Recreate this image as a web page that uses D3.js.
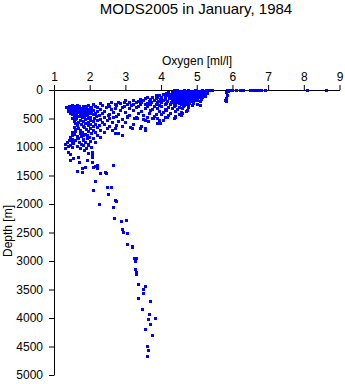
<!DOCTYPE html>
<html>
<head>
<meta charset="utf-8">
<script src="https://cdn.jsdelivr.net/npm/d3@7/dist/d3.min.js"></script>
<style>
html,body{margin:0;padding:0;background:#fff;}
svg{display:block;font-family:"Liberation Sans",Arial,Helvetica,sans-serif;}
</style>
</head>
<body>
<svg id="chart" width="345" height="384"></svg>
<script>
const titleText = "MODS2005 in January, 1984";
const xLabel = "Oxygen [ml/l]";
const yLabel = "Depth [m]";
const xTicks = [1,2,3,4,5,6,7,8,9];
const yTicks = [0,500,1000,1500,2000,2500,3000,3500,4000,4500,5000];

// [oxygen ml/l, depth m]
const surfacePts = [
[4.35,8],[4.45,2],[4.55,12],[4.65,4],[4.75,0],[4.85,10],[4.95,3],[5.05,14],[5.15,2],[5.25,8],[5.35,0],[5.42,5],
[5.84,0],[5.9,5],[6.0,0],[6.1,3],[6.2,0],[6.3,2],[6.5,0],[6.58,3],[6.65,0],[6.72,2],[6.8,0],[6.92,0],[8.08,0],[8.63,0],
[5.81,29],[5.85,88],[5.83,135],[5.81,193],[5.79,175],[5.88,12]
];
const upperPts = [
[4.2,38],[4.3,30],[4.4,42],[4.5,28],[4.6,36],[4.7,45],[4.8,30],[4.9,40],[5.0,33],[5.1,44],[5.2,27],[5.3,36],
[4.05,62],[4.15,55],[4.25,68],[4.38,58],[4.48,65],[4.58,52],[4.68,70],[4.78,60],[4.88,55],[4.98,66],[5.08,58],[5.18,63],[5.28,55],
[3.85,92],[3.95,85],[4.1,98],[4.2,88],[4.32,95],[4.42,82],[4.52,100],[4.62,90],[4.72,84],[4.82,96],[4.92,88],[5.02,93],[5.12,85],[5.22,98],
[3.6,125],[3.75,118],[3.9,130],[4.0,115],[4.12,127],[4.25,120],[4.35,132],[4.45,118],[4.55,126],[4.65,135],[4.75,120],[4.85,128],[4.95,116],[5.05,130],[5.15,122],
[3.4,155],[3.55,148],[3.7,158],[3.85,145],[3.98,160],[4.1,150],[4.22,142],[4.32,157],[4.42,148],[4.52,162],[4.62,152],[4.72,145],[4.82,158],[4.92,150],[5.02,165],[5.12,155],
[3.0,182],[3.2,176],[3.35,188],[3.5,178],[3.65,185],[3.8,172],[3.92,190],[4.05,180],[4.18,186],[4.3,175],[4.4,192],[4.5,182],[4.6,178],[4.7,190],[4.8,184],[4.9,195],[5.0,180],[5.1,188],
[2.6,212],[2.8,205],[2.95,218],[3.1,208],[3.3,215],[3.45,205],[3.6,220],[3.72,210],[3.88,216],[4.0,204],[4.15,222],[4.28,212],[4.38,218],[4.48,206],[4.58,225],[4.68,214],[4.78,220],[4.9,230],[5.0,240],
[2.1,242],[2.3,236],[2.5,248],[2.7,240],[2.85,235],[3.05,250],[3.2,244],[3.4,238],[3.55,252],[3.7,245],[3.85,240],[3.95,256],[4.1,248],[4.25,242],[4.4,258],[4.55,250],[4.65,262],[4.75,255],[4.88,262]
];
const surfaceFillPts = [
[4.4,20],[4.5,18],[4.6,22],[4.7,16],[4.8,20],[4.9,24],[5.0,18],[5.1,22],[5.2,16],[5.3,20],
[4.45,48],[4.55,46],[4.65,50],[4.75,48],[4.85,46],[4.95,50],[5.05,48],[5.15,46],[5.25,44],
[4.3,78],[4.4,75],[4.5,78],[4.6,72],[4.7,76],[4.8,74],[4.9,78],[5.0,72],[5.1,76],[5.2,72],
[4.3,108],[4.4,105],[4.5,110],[4.6,106],[4.7,104],[4.8,108],[4.9,104],[5.0,110],[5.1,106],
[4.4,140],[4.5,138],[4.6,142],[4.7,136],[4.8,140],[4.9,138],[5.0,142],
[4.45,168],[4.55,170],[4.65,165],[4.75,170],[4.85,168],[4.95,172],
[4.5,200],[4.6,198],[4.7,202],[4.8,200],[4.35,232],[4.5,230],[4.62,236],[4.72,240]
];
const midPts = [
[1.5,268],[1.65,262],[1.8,274],[1.95,266],[2.15,272],[2.35,262],[2.55,276],[2.75,266],[2.95,280],[3.15,270],[3.35,282],[3.6,275],[3.8,285],[4.0,278],[4.2,290],[4.35,282],[4.5,295],[4.62,288],[4.75,300],[5.1,265],
[1.35,298],[1.45,305],[1.6,295],[1.72,308],[1.85,300],[2.0,312],[2.2,302],[2.45,298],[2.7,310],[2.9,304],[3.1,318],[3.3,300],[3.55,316],[3.75,325],[3.9,310],[4.1,330],[4.3,318],[4.45,335],[4.6,322],[4.72,345],
[1.4,332],[1.55,338],[1.68,328],[1.8,342],[1.95,335],[2.1,346],[2.3,330],[2.6,340],[2.85,350],[3.2,345],[3.45,360],[3.7,350],[3.95,372],[4.15,358],[4.38,370],[4.55,380],[4.7,362],
[1.38,365],[1.5,372],[1.62,360],[1.75,378],[1.9,368],[2.05,380],[2.2,365],[2.4,376],[2.65,385],[3.0,392],[3.35,405],[3.65,400],[3.85,415],[4.05,392],[4.25,405],[4.5,415],[4.6,398],
[1.45,395],[1.58,402],[1.7,390],[1.85,408],[2.0,398],[2.15,412],[2.35,400],[2.55,418],[2.8,420],[3.1,430],[3.5,440],[3.8,452],[4.0,428],[4.2,440],[4.4,455],[4.55,435],
[1.5,425],[1.62,432],[1.78,420],[1.92,438],[2.08,428],[2.25,445],[2.5,436],[2.75,455],[3.05,462],[3.3,475],[3.6,470],[3.9,485],[4.1,472],[4.35,490],
[1.55,455],[1.7,462],[1.85,450],[2.0,468],[2.18,458],[2.4,475],[2.66,468],[3.04,470],[3.5,505],[3.75,495],[4.16,468],[4.4,480],
[1.5,485],[1.62,492],[1.78,480],[1.95,498],[2.12,488],[2.3,500],[2.55,490],[2.9,510],[3.25,495],[3.64,550],[3.95,520]
];
const leftFillPts = [
[1.42,285],[1.55,282],[1.7,288],[1.9,285],[2.05,290],[1.48,318],[1.62,322],[1.78,315],[1.9,320],[2.05,325],
[1.45,350],[1.6,352],[1.72,355],[1.88,350],[2.0,358],[1.52,388],[1.66,385],[1.8,390],[1.95,385],
[1.58,415],[1.72,410],[1.88,418],[2.02,412]
];
const lowerPts = [
[1.6,515],[1.73,522],[1.88,510],[2.02,528],[2.2,518],[2.48,526],[2.8,540],[3.32,497],[3.78,497],[4.06,526],
[1.55,548],[1.68,555],[1.82,542],[1.96,560],[2.1,550],[2.35,565],[2.62,555],[3.0,570],[3.55,520],[3.9,580],
[1.6,585],[1.75,592],[1.87,580],[2.0,598],[2.15,588],[2.4,600],[2.75,610],[3.2,590],[3.97,579],
[1.65,618],[1.8,625],[1.95,612],[2.08,630],[2.25,620],[2.55,635],[2.9,625],[3.45,640],
[1.55,652],[1.68,660],[1.85,648],[2.01,665],[2.2,655],[2.48,672],[2.7,660],[3.13,643],[3.41,667],[3.55,672],
[1.6,692],[1.73,700],[1.9,688],[2.1,705],[2.3,695],[2.62,702],[3.18,672],[3.55,696],
[1.5,732],[1.59,725],[1.78,740],[1.95,728],[2.15,735],[2.4,745],[2.8,760],
[1.55,765],[1.73,760],[1.88,772],[2.05,758],[2.71,760],
[1.5,792],[1.64,800],[1.8,788],[1.92,795],[2.2,789],[2.9,789],
[1.45,822],[1.64,830],[1.75,815],[1.98,825],[2.29,819],
[1.5,852],[1.68,845],[1.82,860],[1.92,848],[2.08,848],
[1.42,882],[1.6,875],[1.82,877],[2.0,890],[2.15,906],
[1.36,912],[1.5,920],[1.7,905],[1.88,915],
[1.3,942],[1.45,965],[1.54,935],[1.75,950],[1.95,945],
[1.4,975],[1.64,982],[1.8,970],[1.96,965],[2.03,994],
[1.31,1023],[1.5,1005],[1.73,1023],[1.9,1010],[2.06,1082]
];
const intermediatePts = [
[1.4,1082],[1.45,1123],[1.45,1228],[1.54,1199],[1.68,1170],[1.7,1257],[1.92,1228],[2.06,1170],[2.06,1257],[2.2,1316],
[2.1,1345],[1.87,1345],[1.78,1374],[1.64,1421],[1.78,1444],[2.29,1462],[2.43,1433],[2.66,1316],[2.06,1140],[1.85,1060],
[1.95,1100],[2.15,1333],[2.2,1374],[2.46,1450],[2.15,1596],[2.1,1754],[2.48,1708],[2.6,1708],[2.52,1830],[2.27,2006],
[2.71,1930],[2.74,1953],[2.64,2058],[2.69,2252]
];
const deepPts = [
[2.88,2298],[3.03,2280],[2.9,2444],[2.94,2497],[3.05,2515],[3.05,2702],[3.19,2737],[3.19,2760],[3.23,2953],[3.3,2942],
[3.27,3000],[3.28,3140],[3.3,3199],[3.3,3234],[3.35,3404],[3.54,3439],[3.5,3497],[3.5,3567],[3.36,3655],[3.68,3702],
[3.47,3848],[3.66,3936],[3.84,3994],[3.64,4012],[3.68,4111],[3.54,4187],[3.75,4298],[3.61,4497],[3.64,4567],[3.61,4667]
];

const allPts = [].concat(surfacePts, upperPts, surfaceFillPts, midPts, leftFillPts, lowerPts, intermediatePts, deepPts);

const svg = d3.select("#chart");
const x = d3.scaleLinear().domain([1, 9]).range([54, 339.5]);
const y = d3.scaleLinear().domain([0, 5000]).range([90, 375]);

svg.append("text").attr("x", 196).attr("y", 14)
  .attr("text-anchor", "middle").attr("font-size", 15).attr("fill", "#000")
  .text(titleText);

const xAxis = svg.append("g").attr("transform", "translate(0,90)")
  .call(d3.axisTop(x).tickValues(xTicks).tickFormat(d3.format("d")).tickSizeInner(5).tickSizeOuter(0).tickPadding(4));
const yAxis = svg.append("g").attr("transform", "translate(54,0)")
  .call(d3.axisLeft(y).tickValues(yTicks).tickFormat(d3.format("d")).tickSizeInner(5).tickSizeOuter(0).tickPadding(6));
[xAxis, yAxis].forEach(g => {
  g.selectAll("text").attr("font-size", 12).attr("fill", "#000").style("font-family", "'Liberation Sans',Arial,sans-serif");
  g.selectAll("line,path").attr("stroke", "#000");
});

svg.append("text").attr("x", 197).attr("y", 65)
  .attr("text-anchor", "middle").attr("font-size", 12).text(xLabel);
svg.append("text").attr("transform", "translate(12,231) rotate(-90)")
  .attr("text-anchor", "middle").attr("font-size", 12).text(yLabel);

svg.append("g").attr("shape-rendering", "crispEdges")
  .selectAll("rect").data(allPts).join("rect")
  .attr("x", d => Math.round(x(d[0])) - 1)
  .attr("y", d => Math.round(y(d[1])) - 1)
  .attr("width", 3).attr("height", 3)
  .attr("fill", "#0000ff");
</script>
</body>
</html>
